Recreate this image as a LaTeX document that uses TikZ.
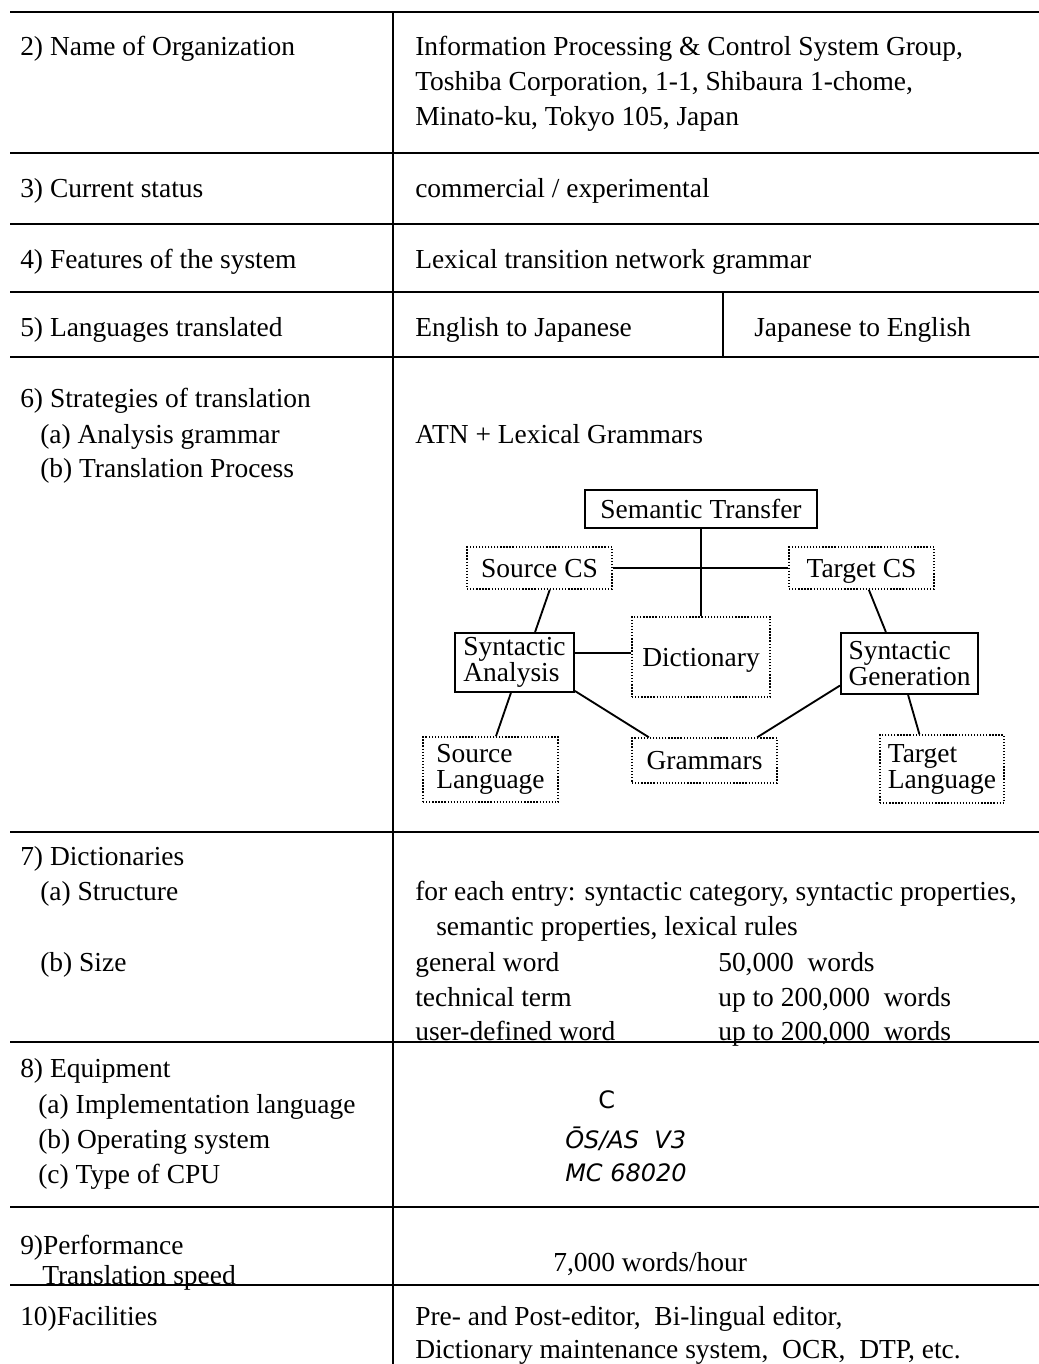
\documentclass[tikz,border=0pt]{standalone}
\usepackage{fontspec}
\setmainfont{Liberation Serif}
\newfontfamily\handfont{DejaVu Sans}
\usetikzlibrary{calc}
\begin{document}
\begin{tikzpicture}[x=0.75pt,y=-0.75pt,
  txt/.style={anchor=base west, inner sep=0pt, font=\fontsize{20.6}{24}\selectfont},
  hand/.style={anchor=base west, inner sep=0pt, font=\handfont\itshape\fontsize{18}{18}\selectfont},
  rule/.style={line width=1.7pt},
  boxtext/.style={inner sep=0pt, align=left, font=\fontsize{20.6}{19.5}\selectfont},
  oneline/.style={text height=17pt, text depth=3pt},
  solidbox/.style={boxtext, draw, line width=1.5pt},
  dotbox/.style={boxtext, draw, line width=1.1pt, dash pattern=on 1pt off 1.3pt},
  link/.style={line width=1.4pt}]
\useasboundingbox (0,0) rectangle (1039,1364);

% table rules
\coordinate (tl) at (10,12);
\coordinate (tr) at (1039,12);
\draw[rule] (tl) -- (tr);
\foreach \yy in {153,224,292,357,832,1042,1207,1285}{
  \draw[rule] (10,\yy) -- (1039,\yy);
}
\draw[rule] (393,12) -- (393,1364);
\draw[rule] (723,292) -- (723,357);

% left column
\node[txt] (l2) at (20,55) {2) Name of Organization};
\node[txt] (l3) at (20,197) {3) Current status};
\node[txt] (l4) at (20,268) {4) Features of the system};
\node[txt] (l5) at (20,336) {5) Languages translated};
\node[txt] (l6) at (20,407) {6) Strategies of translation};
\node[txt] (l6a) at (40,443) {(a) Analysis grammar};
\node[txt] (l6b) at (40,477) {(b) Translation Process};
\node[txt] (l7) at (20,865) {7) Dictionaries};
\node[txt] (l7a) at (40,900) {(a) Structure};
\node[txt] (l7b) at (40,971) {(b) Size};
\node[txt] (l8) at (20,1077) {8) Equipment};
\node[txt] (l8a) at (38,1113) {(a) Implementation language};
\node[txt] (l8b) at (38,1148) {(b) Operating system};
\node[txt] (l8c) at (38,1183) {(c) Type of CPU};
\node[txt] (l9) at (20,1254) {9)Performance};
\node[txt] (l9a) at (42,1284) {Translation speed};
\node[txt] (l10) at (20,1325) {10)Facilities};

% right column
\node[txt] (r2a) at (415,55) {Information Processing \& Control System Group,};
\node[txt] (r2b) at (415,90) {Toshiba Corporation, 1-1, Shibaura 1-chome,};
\node[txt] (r2c) at (415,125) {Minato-ku, Tokyo 105, Japan};
\node[txt] (r3) at (415,197) {commercial / experimental};
\node[txt] (r4) at (415,268) {Lexical transition network grammar};
\node[txt] (r5a) at (415,336) {English to Japanese};
\node[txt] (r5b) at (754,336) {Japanese to English};
\node[txt] (r6a) at (415,443) {ATN + Lexical Grammars};
\node[txt] (r7a) at (415,900) {for each entry: syntactic category, syntactic properties,};
\node[txt] (r7b) at (436,935) {semantic properties, lexical rules};
\node[txt] (r7c) at (415,971) {general word};
\node[txt] (r7d) at (718,971) {50,000~ words};
\node[txt] (r7e) at (415,1006) {technical term};
\node[txt] (r7f) at (718,1006) {up to 200,000~ words};
\node[txt] (r7g) at (415,1040) {user-defined word};
\node[txt] (r7h) at (718,1040) {up to 200,000~ words};
\node[hand, font=\handfont\fontsize{18}{18}\selectfont] (r8a) at (598,1108) {C};
\node[hand] (r8b) at (565,1148) {\=OS/AS~ V3};
\node[hand] (r8c) at (565,1181) {MC 68020};
\node[txt] (r9) at (553,1271) {7,000 words/hour};
\node[txt] (r10a) at (415,1325) {Pre- and Post-editor,~ Bi-lingual editor,};
\node[txt] (r10b) at (415,1358) {Dictionary maintenance system,~ OCR,~ DTP, etc.};

% translation process diagram
\node[solidbox, oneline, minimum width=174pt, minimum height=28.5pt] (st) at (701,509) {Semantic Transfer};
\node[dotbox, oneline, minimum width=108.75pt, minimum height=31.5pt] (scs) at (539.5,568) {Source CS};
\node[dotbox, oneline, minimum width=108.75pt, minimum height=31.5pt] (tcs) at (861.5,568) {Target CS};
\node[solidbox, minimum width=89.25pt, minimum height=44.25pt] (sya) at (514.5,662.5) {Syntactic\\Analysis};
\node[dotbox, oneline, minimum width=103.5pt, minimum height=60pt] (dic) at (701,657) {Dictionary};
\node[solidbox, minimum width=102.75pt, minimum height=45.75pt] (syg) at (909.5,663.5) {Syntactic\\Generation};
\node[dotbox, minimum width=101.25pt, minimum height=48.75pt] (sl) at (490.5,769.5) {Source\\Language};
\node[dotbox, oneline, minimum width=108.75pt, minimum height=33.75pt] (gr) at (704.5,760.5) {Grammars};
\node[dotbox, minimum width=93pt, minimum height=51pt] (tl2) at (942,769) {Target\\Language};

\draw[link] (scs.east) -- (tcs.west);
\draw[link] (st.south) -- (dic.north);
\draw[link] (sya.east |- 0,653) -- (dic.west |- 0,653);
\draw[link] ($(scs.south west)!0.57!(scs.south east)$) -- ($(sya.north west)!0.67!(sya.north east)$);
\draw[link] ($(tcs.south west)!0.55!(tcs.south east)$) -- ($(syg.north west)!0.33!(syg.north east)$);
\draw[link] ($(sya.south west)!0.47!(sya.south east)$) -- ($(sl.north west)!0.54!(sl.north east)$);
\draw[link] ($(sya.south east)+(0,-2)$) -- ($(gr.north west)!0.12!(gr.north east)$);
\draw[link] ($(syg.north west)!0.85!(syg.south west)$) -- ($(gr.north west)!0.86!(gr.north east)$);
\draw[link] ($(syg.south west)!0.49!(syg.south east)$) -- ($(tl2.north west)!0.32!(tl2.north east)$);
\end{tikzpicture}
\end{document}
